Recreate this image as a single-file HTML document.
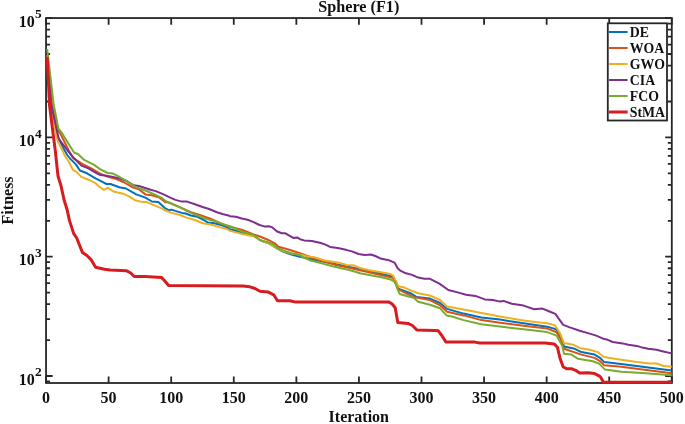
<!DOCTYPE html>
<html><head><meta charset="utf-8"><title>Sphere (F1)</title>
<style>html,body{margin:0;padding:0;background:#fff;width:685px;height:424px;overflow:hidden}svg{display:block;will-change:transform}</style>
</head><body>
<svg width="685" height="424" viewBox="0 0 685 424">
<defs><clipPath id="clipax"><rect x="44.849999999999994" y="16.85" width="628.15" height="367.34999999999997"/></clipPath></defs>
<rect x="0" y="0" width="685" height="424" fill="#ffffff"/>
<path d="M46.05,383.0v-6.6M46.05,18.05v6.6M108.62,383.0v-6.6M108.62,18.05v6.6M171.20,383.0v-6.6M171.20,18.05v6.6M233.77,383.0v-6.6M233.77,18.05v6.6M296.35,383.0v-6.6M296.35,18.05v6.6M358.93,383.0v-6.6M358.93,18.05v6.6M421.50,383.0v-6.6M421.50,18.05v6.6M484.07,383.0v-6.6M484.07,18.05v6.6M546.65,383.0v-6.6M546.65,18.05v6.6M609.22,383.0v-6.6M609.22,18.05v6.6M671.80,383.0v-6.6M671.80,18.05v6.6M46.05,376.00h6.6M671.8,376.00h-6.6M46.05,256.70h6.6M671.8,256.70h-6.6M46.05,137.40h6.6M671.8,137.40h-6.6M46.05,18.10h6.6M671.8,18.10h-6.6M46.05,381.46h4M671.8,381.46h-4M46.05,340.09h4M671.8,340.09h-4M46.05,319.08h4M671.8,319.08h-4M46.05,304.17h4M671.8,304.17h-4M46.05,292.61h4M671.8,292.61h-4M46.05,283.17h4M671.8,283.17h-4M46.05,275.18h4M671.8,275.18h-4M46.05,268.26h4M671.8,268.26h-4M46.05,262.16h4M671.8,262.16h-4M46.05,220.79h4M671.8,220.79h-4M46.05,199.78h4M671.8,199.78h-4M46.05,184.87h4M671.8,184.87h-4M46.05,173.31h4M671.8,173.31h-4M46.05,163.87h4M671.8,163.87h-4M46.05,155.88h4M671.8,155.88h-4M46.05,148.96h4M671.8,148.96h-4M46.05,142.86h4M671.8,142.86h-4M46.05,101.49h4M671.8,101.49h-4M46.05,80.48h4M671.8,80.48h-4M46.05,65.57h4M671.8,65.57h-4M46.05,54.01h4M671.8,54.01h-4M46.05,44.57h4M671.8,44.57h-4M46.05,36.58h4M671.8,36.58h-4M46.05,29.66h4M671.8,29.66h-4M46.05,23.56h4M671.8,23.56h-4" stroke="#262626" stroke-width="1.8" fill="none"/>
<rect x="46.05" y="18.05" width="625.75" height="364.95" fill="none" stroke="#262626" stroke-width="1.8"/>
<g clip-path="url(#clipax)">
<polyline points="47.2,55.0 51.0,105.0 57.8,136.9 64.4,150.0 67.2,155.0 70.0,158.5 75.7,164.1 79.9,170.5 87.0,173.3 95.5,178.3 100.0,180.7 106.5,184.0 110.4,184.0 119.4,187.2 125.9,188.5 136.3,194.4 145.4,197.6 151.9,201.5 158.3,202.1 164.8,208.0 168.9,210.3 171.5,209.6 175.4,210.9 181.9,212.9 185.7,213.5 190.9,215.5 197.4,216.8 203.9,220.0 207.8,222.6 214.3,223.2 222.0,225.2 230.0,229.1 241.8,232.5 253.6,235.5 260.6,240.5 268.0,243.0 277.1,248.5 283.0,251.5 291.3,254.5 300.0,256.8 330.0,263.0 365.0,270.2 392.9,276.4 398.3,288.6 410.5,293.2 416.7,297.1 430.0,298.6 440.0,303.0 447.1,308.9 463.6,313.6 481.3,317.4 500.0,319.6 511.8,321.5 523.6,323.3 535.4,325.1 547.2,326.8 554.2,328.6 556.6,329.8 560.7,336.4 564.0,346.4 574.8,348.8 581.4,352.1 594.6,354.6 600.0,357.8 604.2,362.1 621.2,363.9 642.4,366.7 671.8,370.4" fill="none" stroke="#0072BD" stroke-width="2" stroke-linejoin="round" stroke-linecap="butt"/>
<polyline points="47.2,55.0 51.9,105.0 57.8,130.4 60.2,133.3 68.5,150.0 72.9,157.8 81.4,163.4 91.3,168.4 99.7,173.3 107.8,176.9 115.6,178.8 123.3,182.0 132.4,187.2 138.9,189.2 145.4,194.4 151.9,195.3 159.6,197.6 165.0,201.9 170.0,202.8 190.9,212.2 201.3,215.5 210.4,218.7 222.0,223.9 230.0,226.8 241.8,229.7 253.6,234.4 260.6,236.8 267.7,239.7 274.8,243.3 278.3,246.8 287.7,249.2 300.0,253.3 314.4,258.5 333.9,264.4 360.0,270.3 392.9,277.9 398.3,289.4 413.6,297.1 430.0,300.1 440.0,305.3 447.1,311.8 463.6,315.4 481.3,320.1 500.0,322.8 523.6,325.7 547.2,328.6 556.6,332.3 560.5,339.0 564.0,348.8 581.4,354.6 594.6,357.9 600.0,361.1 604.2,365.3 621.2,366.7 642.4,369.6 671.8,373.2" fill="none" stroke="#D95319" stroke-width="2" stroke-linejoin="round" stroke-linecap="butt"/>
<polyline points="47.2,55.0 50.7,105.0 56.0,134.5 58.4,142.8 62.3,150.0 64.3,155.0 68.6,161.3 72.9,169.8 76.4,171.9 81.4,176.9 88.4,179.7 95.5,183.2 100.0,187.2 103.9,189.8 107.8,187.9 114.3,191.8 123.3,193.7 129.8,196.9 135.0,200.2 142.8,202.1 146.7,202.1 154.4,205.4 162.2,208.6 165.0,210.3 171.5,212.9 179.3,214.8 185.7,217.4 194.8,220.0 202.6,223.2 210.4,224.5 219.4,227.1 227.2,229.1 230.0,230.9 241.8,233.9 253.6,236.2 260.6,240.5 268.0,243.0 277.1,248.5 283.0,251.0 291.3,253.5 300.0,254.5 308.0,256.6 314.4,257.2 324.8,260.5 337.8,262.4 346.9,265.0 354.6,265.6 360.0,268.0 369.2,270.3 378.4,271.8 390.6,274.1 392.9,275.6 396.0,281.0 398.3,286.3 404.4,287.6 412.1,291.0 418.2,293.2 430.0,295.5 440.0,300.0 447.1,306.5 463.6,309.5 481.3,313.0 500.0,316.6 511.8,318.6 523.6,320.4 535.4,322.1 547.2,323.3 554.2,325.1 555.7,326.5 559.9,333.1 564.0,343.1 573.1,344.7 580.5,348.3 589.6,349.7 597.9,352.1 600.0,354.0 603.5,356.8 608.5,357.8 621.2,359.7 635.4,361.8 649.5,363.5 656.6,363.5 663.6,366.0 671.8,366.8" fill="none" stroke="#EDB120" stroke-width="2" stroke-linejoin="round" stroke-linecap="butt"/>
<polyline points="47.2,55.0 51.3,105.0 57.2,132.1 59.0,139.2 67.2,150.0 72.9,157.0 81.4,165.6 88.4,168.4 96.9,173.3 100.0,174.9 105.2,175.6 113.0,176.9 120.7,178.8 125.9,180.7 133.7,185.3 138.9,185.9 142.8,187.2 150.6,189.8 155.7,191.1 163.5,194.4 170.2,197.7 175.4,199.9 181.9,201.6 187.0,201.6 193.5,203.8 202.6,207.0 209.1,209.0 216.9,212.2 223.3,214.2 228.5,215.5 230.0,216.2 235.9,216.8 241.8,218.5 247.7,219.7 253.6,222.1 259.5,225.0 264.2,226.4 268.9,226.2 272.4,227.4 277.1,231.5 281.9,233.3 285.4,233.3 290.1,236.2 293.6,238.0 297.2,237.4 300.0,239.2 304.1,240.4 311.9,241.0 320.9,243.0 326.1,244.9 330.0,246.9 337.8,248.1 346.9,250.1 352.0,251.4 358.5,254.0 364.6,255.0 370.7,254.5 375.3,256.0 381.4,258.8 389.1,260.3 394.5,262.6 397.5,268.0 399.8,270.3 405.9,273.3 412.1,274.9 418.2,277.6 424.3,278.7 430.0,278.8 439.4,283.6 448.3,290.0 457.7,292.4 466.0,294.7 475.4,295.9 484.8,299.4 493.0,300.0 500.0,301.6 503.5,300.9 511.8,303.8 523.6,305.6 534.2,309.2 542.5,308.6 549.5,311.5 555.4,313.9 559.6,319.8 563.2,324.9 569.8,327.4 579.7,330.7 588.0,333.1 596.2,335.6 604.2,339.1 607.1,339.6 612.7,342.0 622.6,343.4 628.3,344.8 636.8,345.9 642.4,347.6 648.1,348.8 656.6,349.8 662.2,351.2 671.8,353.4" fill="none" stroke="#7E2F8E" stroke-width="2" stroke-linejoin="round" stroke-linecap="butt"/>
<polyline points="47.2,49.0 53.7,105.0 54.8,110.0 58.4,128.6 61.3,132.1 67.2,141.6 73.1,151.0 74.3,152.8 77.9,154.0 84.2,159.9 94.1,164.9 100.0,169.1 102.6,170.5 107.8,173.0 113.0,173.6 118.1,176.2 125.9,180.7 135.0,186.6 145.4,190.5 154.4,194.4 162.2,198.2 165.0,200.6 171.5,203.8 178.0,206.4 188.3,211.6 197.4,215.5 207.8,219.4 216.9,221.9 225.9,225.2 230.0,226.2 241.8,231.5 253.6,235.0 257.1,238.0 260.6,240.3 267.7,242.1 273.6,244.5 277.1,248.0 283.0,250.4 291.3,253.3 300.0,255.1 302.8,257.2 310.6,260.5 320.9,263.1 332.6,266.3 344.3,268.9 354.6,271.5 360.0,273.3 369.2,274.9 381.4,277.2 390.6,279.5 395.2,281.8 397.5,289.4 399.8,294.0 407.5,296.3 413.6,297.8 418.2,301.7 430.0,304.7 440.0,308.3 446.5,315.4 451.8,316.5 463.6,320.1 481.3,324.2 500.0,326.6 511.8,328.0 523.6,329.2 547.2,332.1 556.6,335.6 562.4,346.4 564.0,353.8 571.4,354.6 578.1,358.8 592.9,361.2 599.5,363.7 600.0,364.6 605.0,369.6 621.2,371.7 642.4,373.1 671.8,375.3" fill="none" stroke="#77AC30" stroke-width="2" stroke-linejoin="round" stroke-linecap="butt"/>
<polyline points="47.2,57.0 49.5,105.0 52.0,125.0 55.2,150.0 58.0,176.0 60.9,185.4 64.1,200.0 67.2,210.0 69.4,220.4 73.7,233.6 76.7,238.0 82.5,252.6 86.9,255.5 91.3,259.9 95.6,267.2 104.4,269.2 110.2,270.0 126.3,270.7 130.7,273.0 134.2,276.5 145.3,276.5 161.3,277.4 164.2,280.3 168.6,285.5 243.0,286.0 250.0,286.8 255.0,288.5 260.0,291.3 267.9,291.9 273.7,294.8 277.5,300.7 289.8,300.7 295.6,302.1 389.0,302.1 392.2,304.0 395.2,307.8 397.8,322.6 408.0,323.4 412.4,325.5 416.8,329.9 434.3,330.4 438.3,330.8 441.8,335.5 446.0,342.1 474.8,342.1 479.5,343.0 545.0,343.1 554.1,343.9 557.4,347.2 559.9,357.9 563.2,367.0 566.5,368.7 571.4,368.7 575.6,370.3 579.7,373.1 588.0,372.8 594.6,373.6 599.5,376.1 600.5,377.0 603.5,382.2 671.8,382.2" fill="none" stroke="#D81B1F" stroke-width="3" stroke-linejoin="round" stroke-linecap="butt"/>
</g>
<text x="46.05" y="402.6" font-family="Liberation Serif" font-weight="bold" font-size="16" text-anchor="middle" fill="#111">0</text>
<text x="108.62" y="402.6" font-family="Liberation Serif" font-weight="bold" font-size="16" text-anchor="middle" fill="#111">50</text>
<text x="171.20" y="402.6" font-family="Liberation Serif" font-weight="bold" font-size="16" text-anchor="middle" fill="#111">100</text>
<text x="233.77" y="402.6" font-family="Liberation Serif" font-weight="bold" font-size="16" text-anchor="middle" fill="#111">150</text>
<text x="296.35" y="402.6" font-family="Liberation Serif" font-weight="bold" font-size="16" text-anchor="middle" fill="#111">200</text>
<text x="358.93" y="402.6" font-family="Liberation Serif" font-weight="bold" font-size="16" text-anchor="middle" fill="#111">250</text>
<text x="421.50" y="402.6" font-family="Liberation Serif" font-weight="bold" font-size="16" text-anchor="middle" fill="#111">300</text>
<text x="484.07" y="402.6" font-family="Liberation Serif" font-weight="bold" font-size="16" text-anchor="middle" fill="#111">350</text>
<text x="546.65" y="402.6" font-family="Liberation Serif" font-weight="bold" font-size="16" text-anchor="middle" fill="#111">400</text>
<text x="609.22" y="402.6" font-family="Liberation Serif" font-weight="bold" font-size="16" text-anchor="middle" fill="#111">450</text>
<text x="671.80" y="402.6" font-family="Liberation Serif" font-weight="bold" font-size="16" text-anchor="middle" fill="#111">500</text>
<text x="34.8" y="384.60" font-family="Liberation Serif" font-weight="bold" font-size="16" text-anchor="end" fill="#111">10</text>
<text x="35.0" y="376.20" font-family="Liberation Serif" font-weight="bold" font-size="13.4" fill="#111">2</text>
<text x="34.8" y="265.30" font-family="Liberation Serif" font-weight="bold" font-size="16" text-anchor="end" fill="#111">10</text>
<text x="35.0" y="256.90" font-family="Liberation Serif" font-weight="bold" font-size="13.4" fill="#111">3</text>
<text x="34.8" y="146.00" font-family="Liberation Serif" font-weight="bold" font-size="16" text-anchor="end" fill="#111">10</text>
<text x="35.0" y="137.60" font-family="Liberation Serif" font-weight="bold" font-size="13.4" fill="#111">4</text>
<text x="34.8" y="26.70" font-family="Liberation Serif" font-weight="bold" font-size="16" text-anchor="end" fill="#111">10</text>
<text x="35.0" y="18.30" font-family="Liberation Serif" font-weight="bold" font-size="13.4" fill="#111">5</text>
<text x="358.8" y="12.2" font-family="Liberation Serif" font-weight="bold" font-size="16.2" text-anchor="middle" fill="#111">Sphere (F1)</text>
<text x="358.8" y="421.9" font-family="Liberation Serif" font-weight="bold" font-size="16" text-anchor="middle" fill="#111">Iteration</text>
<text transform="translate(13.4,200.4) rotate(-90)" x="0" y="0" font-family="Liberation Serif" font-weight="bold" font-size="16" text-anchor="middle" fill="#111">Fitness</text>
<rect x="607.8" y="23.3" width="59.20" height="97.20" fill="#ffffff" stroke="#262626" stroke-width="1.8"/>
<line x1="609" y1="32" x2="627.6" y2="32" stroke="#0072BD" stroke-width="2"/>
<text x="629.8" y="36.6" font-family="Liberation Serif" font-weight="bold" font-size="13.8" fill="#111">DE</text>
<line x1="609" y1="48" x2="627.6" y2="48" stroke="#D95319" stroke-width="2"/>
<text x="629.8" y="52.6" font-family="Liberation Serif" font-weight="bold" font-size="13.8" fill="#111">WOA</text>
<line x1="609" y1="64" x2="627.6" y2="64" stroke="#EDB120" stroke-width="2"/>
<text x="629.8" y="68.6" font-family="Liberation Serif" font-weight="bold" font-size="13.8" fill="#111">GWO</text>
<line x1="609" y1="80" x2="627.6" y2="80" stroke="#7E2F8E" stroke-width="2"/>
<text x="629.8" y="84.6" font-family="Liberation Serif" font-weight="bold" font-size="13.8" fill="#111">CIA</text>
<line x1="609" y1="96" x2="627.6" y2="96" stroke="#77AC30" stroke-width="2"/>
<text x="629.8" y="100.6" font-family="Liberation Serif" font-weight="bold" font-size="13.8" fill="#111">FCO</text>
<line x1="609" y1="112" x2="627.6" y2="112" stroke="#D81B1F" stroke-width="3"/>
<text x="629.8" y="116.6" font-family="Liberation Serif" font-weight="bold" font-size="13.8" fill="#111">StMA</text>
</svg>
</body></html>
